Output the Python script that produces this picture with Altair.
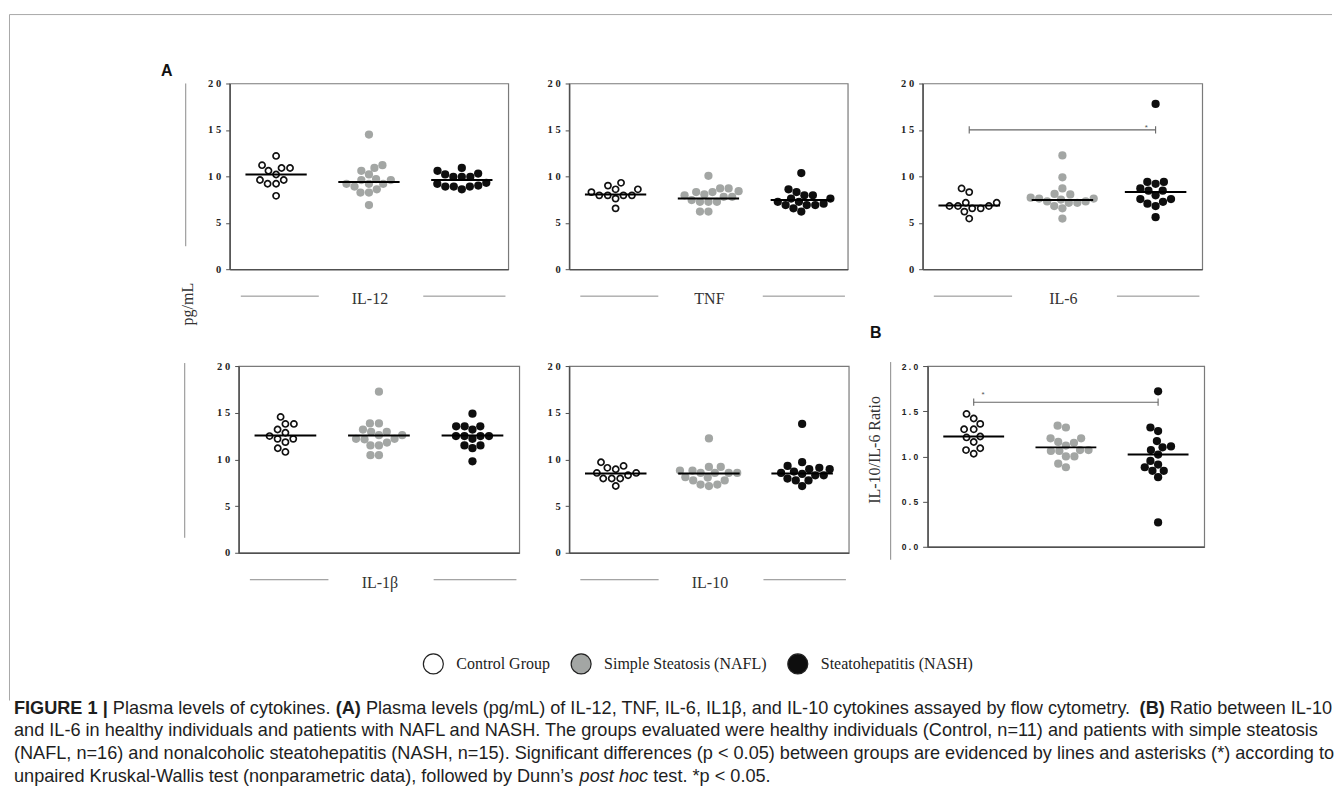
import math
import altair as alt
import pandas as pd

GROUPS = ["Control Group", "Simple Steatosis (NAFL)", "Steatohepatitis (NASH)"]
COLORS = ["#ffffff", "#a3a6a4", "#0e0e0e"]

# ---------------- data ----------------
il12_control = [12.2, 10.9, 10.6, 10.9, 11.2, 10.2, 9.6, 9.2, 9.2, 9.6, 7.9]
il12_nafl = [14.5, 10.6, 11.2, 10.9, 10.2, 9.2, 8.9, 9.6, 9.7, 9.6, 9.2, 9.2, 8.25, 8.25, 8.6, 6.9]
il12_nash = [10.6, 10.3, 9.95, 9.95, 9.95, 10.2, 10.9, 9.3, 9.0, 8.9, 8.6, 8.9, 8.9, 9.2]
il12_median = [10.2, 9.4, 9.6]

tnf_control = [9.0, 8.6, 7.95, 7.95, 9.3, 7.95, 7.6, 7.95, 8.3, 8.6, 6.55]
tnf_nafl = [10.05, 8.7, 8.3, 8.05, 7.8, 7.8, 7.95, 8.3, 8.4, 8.7, 7.25, 7.25, 7.45, 7.25, 6.2, 6.2]
tnf_nash = [10.35, 8.6, 7.95, 7.6, 7.6, 7.95, 8.3, 7.25, 6.9, 6.9, 7.05, 6.9, 7.25, 6.2, 6.55]
tnf_median = [8.05, 7.6, 7.45]

il6_control = [5.45, 8.3, 8.7, 7.15, 6.55, 6.8, 6.8, 6.8, 6.2, 6.55, 7.15]
il6_nafl = [12.25, 9.9, 8.7, 5.45, 8.1, 7.6, 7.3, 7.15, 7.15, 6.55, 7.3, 7.5, 8.05, 7.6, 7.7, 6.8]
il6_nash = [17.8, 5.6, 9.4, 8.7, 8.45, 8.45, 9.2, 9.4, 7.55, 7.25, 7.05, 6.8, 7.55, 7.95]
il6_median = [6.85, 7.45, 8.3]

il1b_control = [14.55, 13.8, 13.8, 13.2, 12.85, 12.5, 12.2, 11.85, 12.2, 11.2, 10.8]
il1b_nafl = [17.25, 13.85, 13.85, 13.2, 12.95, 12.6, 12.2, 12.15, 12.2, 12.6, 12.95, 11.5, 11.8, 11.5, 10.45, 10.45]
il1b_nash = [14.9, 13.55, 13.2, 13.55, 13.55, 12.2, 12.5, 12.5, 12.5, 12.5, 11.5, 11.2, 11.5, 9.8]
il1b_median = [12.55, 12.55, 12.55]

il10_control = [9.7, 9.1, 8.3, 7.95, 8.55, 7.15, 8.55, 7.95, 8.95, 7.95, 9.3]
il10_nafl = [12.25, 9.2, 8.1, 8.8, 7.75, 8.55, 7.3, 8.55, 7.15, 8.55, 7.3, 8.55, 7.75, 8.8, 8.05, 9.2]
il10_nash = [13.8, 9.7, 9.1, 8.95, 8.3, 7.75, 7.15, 8.55, 8.45, 7.75, 8.7, 7.95, 8.95, 8.3, 9.3]
il10_median = [8.5, 8.5, 8.5]

ratio_control = [1.47, 1.42, 1.36, 1.30, 1.30, 1.21, 1.22, 1.16, 1.09, 1.07, 1.03]
ratio_nafl = [1.34, 1.32, 1.15, 1.20, 1.20, 1.16, 1.07, 1.06, 1.12, 1.06, 1.07, 1.00, 1.00, 0.88, 0.92]
ratio_nash = [1.72, 1.17, 1.28, 1.32, 1.02, 1.10, 1.07, 1.11, 0.88, 0.84, 0.91, 0.95, 0.77, 0.84, 0.27]
ratio_median = [1.22, 1.10, 1.02]

a_ticks = [0, 5, 10, 15, 20]
b_ticks = [0.0, 0.5, 1.0, 1.5, 2.0]

# significance brackets: (from group, to group, level)
il6_sig = (0, 2, 15.0)
ratio_sig = (0, 2, 1.60)

caption_lines = [
    [("FIGURE 1", "b"), (" | ", "b"), ("Plasma levels of cytokines. ", "n"), ("(A)", "b"),
     (" Plasma levels (pg/mL) of IL-12, TNF, IL-6, IL1β, and IL-10 cytokines assayed by flow cytometry. ", "n"),
     ("(B)", "b"), (" Ratio between IL-10", "n")],
    [("and IL-6 in healthy individuals and patients with NAFL and NASH. The groups evaluated were healthy individuals (Control, n=11) and patients with simple steatosis", "n")],
    [("(NAFL, n=16) and nonalcoholic steatohepatitis (NASH, n=15). Significant differences (p < 0.05) between groups are evidenced by lines and asterisks (*) according to", "n")],
    [("unpaired Kruskal-Wallis test (nonparametric data), followed by Dunn\u2019s ", "n"), ("post hoc", "i"),
     (" test. *p < 0.05.", "n")],
]


# ---------------- helpers ----------------
def swarm(values, px_y, gap):
    """simple beeswarm: offsets in px so that dots do not overlap"""
    order = sorted(range(len(values)), key=lambda i: values[i])
    placed = []
    offs = [0.0] * len(values)
    for i in order:
        y = values[i] * px_y
        cands = [0.0]
        for xj, yj in placed:
            dy = abs(y - yj)
            if dy < gap:
                dx = math.sqrt(gap * gap - dy * dy)
                cands.extend([xj - dx, xj + dx])
        cands.sort(key=lambda c: (abs(c), c))
        for c in cands:
            if all((c - xj) ** 2 + (y - yj) ** 2 >= gap * gap - 1e-6 for xj, yj in placed):
                offs[i] = c
                break
        placed.append((offs[i], y))
    return offs


def deco_text(s, x, y, size=16, font="Liberation Serif", weight="normal", angle=0, color="#333333"):
    return alt.Chart(pd.DataFrame({"t": [s]})).mark_text(
        font=font, fontSize=size, fontWeight=weight, angle=angle, color=color,
        align="center", baseline="middle").encode(
        text="t:N", x=alt.value(x), y=alt.value(y))


def deco_rule(x1, y1, x2, y2, color="#8a8a8a", width=1.0):
    return alt.Chart(pd.DataFrame({"k": [0]})).mark_rule(color=color, strokeWidth=width).encode(
        x=alt.value(x1), x2=alt.value(x2), y=alt.value(y1), y2=alt.value(y2))


def label_row(name, w, h):
    return [
        deco_rule(0.04 * w, h + 27, 0.32 * w, h + 27),
        deco_rule(0.695 * w, h + 27, 0.99 * w, h + 27),
        deco_text(name, w / 2 + 1, h + 30),
    ]


def spacer(w):
    return alt.Chart(pd.DataFrame({"k": [0]})).mark_point(opacity=0).encode(
        x=alt.value(0), y=alt.value(0)).properties(width=w, height=1)


def make_panel(vals3, medians, ymax, ticks, w, h, ratio=False, sig=None, star_dx=0.0, star_dy=0.0, extras=()):
    px_y = h / ymax
    px_x = w / 3.0
    rows = []
    for g, vals in enumerate(vals3):
        offs = swarm(vals, px_y, 8.5)
        for v, o in zip(vals, offs):
            rows.append({"g": g, "value": v, "x": g + 0.5 + o / px_x})
    pts = pd.DataFrame(rows)

    xs = alt.X("x:Q", scale=alt.Scale(domain=[0, 3], nice=False, zero=False),
               axis=alt.Axis(labels=False, ticks=False, title=None, grid=False,
                             domainColor="#505050", domainWidth=1.5))
    if ratio:
        yaxis = alt.Axis(values=ticks, format=".1f", title=None, grid=False,
                         tickSize=5, tickColor="#505050", tickWidth=1,
                         domainColor="#505050", domainWidth=1.5,
                         labelFont="Liberation Sans", labelFontSize=8.5, labelFontWeight="bold",
                         labelColor="#222222", labelPadding=5,
                         labelExpr="join(split(datum.label, ''), ' ')")
    else:
        yaxis = alt.Axis(values=ticks, title=None, grid=False,
                         tickSize=4, tickColor="#505050", tickWidth=1,
                         domainColor="#505050", domainWidth=1.5,
                         labelFont="Liberation Serif", labelFontSize=10.5, labelFontWeight="bold",
                         labelColor="#222222", labelPadding=5,
                         labelExpr="join(split(datum.label, ''), ' ')")
    ys = alt.Y("value:Q", scale=alt.Scale(domain=[0, ymax], nice=False, zero=True), axis=yaxis)

    base = alt.Chart(pts).encode(x=xs, y=ys)
    layers = [
        base.transform_filter("datum.g == 0").mark_point(
            shape="circle", filled=True, fill="white", stroke="#111111", strokeWidth=1.7, size=38, opacity=1),
        base.transform_filter("datum.g == 1").mark_circle(size=68, color=COLORS[1], opacity=1),
        base.transform_filter("datum.g == 2").mark_circle(size=68, color=COLORS[2], opacity=1),
    ]
    med = pd.DataFrame({"g": [0, 1, 2], "value": medians})
    med["x"] = med["g"] + 0.5 - 0.33
    med["x2"] = med["g"] + 0.5 + 0.33
    layers.append(alt.Chart(med).mark_rule(color="#000000", strokeWidth=2).encode(x=xs, x2="x2:Q", y=ys))

    if sig is not None:
        g1, g2, level = sig
        cap = ymax * 0.02
        br = pd.DataFrame({"x": [g1 + 0.5], "x2": [g2 + 0.5], "value": [level]})
        caps = pd.DataFrame({"x": [g1 + 0.5, g2 + 0.5], "value": [level - cap] * 2, "value2": [level + cap] * 2})
        st = pd.DataFrame({"x": [star_dx], "value": [level + star_dy], "t": ["*"]})
        layers += [
            alt.Chart(br).mark_rule(color="#666666", strokeWidth=1.1).encode(x=xs, x2="x2:Q", y=ys),
            alt.Chart(caps).mark_rule(color="#666666", strokeWidth=1.1).encode(x=xs, y=ys, y2="value2:Q"),
            alt.Chart(st).mark_text(fontSize=8, color="#555555", baseline="middle").encode(x=xs, y=ys, text="t:N"),
        ]
    layers += list(extras)
    return alt.layer(*layers).properties(
        width=w, height=h, view=alt.ViewBackground(stroke="#7a7a7a", strokeWidth=1.2))


# ---------------- panels ----------------
W1, H1 = 279, 186
p1 = make_panel([il12_control, il12_nafl, il12_nash], il12_median, 20, a_ticks, W1, H1,
                extras=label_row("IL-12", W1, H1) + [
                    deco_text("A", -63, -12, size=16, font="Liberation Sans", weight="bold", color="#111111"),
                    deco_rule(-44, 0, -44, 163),
                    deco_text("pg/mL", -42, 221, size=16, angle=270),
                    # figure frame
                    deco_rule(-220.5, -69, 1104, -69, color="#a8a8a8", width=1),
                    deco_rule(-220.5, -69, -220.5, 618, color="#a8a8a8", width=1),
                ])
p2 = make_panel([tnf_control, tnf_nafl, tnf_nash], tnf_median, 20, a_ticks, W1, H1,
                extras=label_row("TNF", W1, H1))
p3 = make_panel([il6_control, il6_nafl, il6_nash], il6_median, 20, a_ticks, 280, H1,
                sig=il6_sig, star_dx=2.40, star_dy=0.25,
                extras=label_row("IL-6", 280, H1))

H2 = 187
p4 = make_panel([il1b_control, il1b_nafl, il1b_nash], il1b_median, 20, a_ticks, 281, H2,
                extras=label_row("IL-1β", 281, H2) + [deco_rule(-54, -3, -54, 172)])
p5 = make_panel([il10_control, il10_nafl, il10_nash], il10_median, 20, a_ticks, 280, H2,
                extras=label_row("IL-10", 280, H2))
p6 = make_panel([ratio_control, ratio_nafl, ratio_nash], ratio_median, 2.0, b_ticks, 277, 181,
                ratio=True, sig=ratio_sig, star_dx=0.60, star_dy=0.08,
                extras=[
                    deco_text("B", -52, -33, size=16, font="Liberation Sans", weight="bold", color="#111111"),
                    deco_rule(-37, -4, -37, 194),
                    deco_text("IL-10/IL-6 Ratio", -53, 84, size=16, angle=270),
                ])

# ---------------- legend + caption ----------------
AW = {' ': 278, '!': 278, '(': 333, ')': 333, '*': 389, ',': 278, '-': 333, '.': 278, '/': 278,
      ':': 278, ';': 278, '<': 584, '=': 584, '>': 584, '|': 260, "'": 191, '\u2019': 222, '\u03b2': 575}
for d in "0123456789":
    AW[d] = 556
AW.update(dict(A=667, B=667, C=722, D=722, E=667, F=611, G=778, H=722, I=278, J=500, K=667, L=556, M=833,
               N=722, O=778, P=667, Q=778, R=722, S=667, T=611, U=722, V=667, W=944, X=667, Y=667, Z=611))
AW.update(dict(a=556, b=556, c=500, d=556, e=556, f=278, g=556, h=556, i=222, j=222, k=500, l=222, m=833,
               n=556, o=556, p=556, q=556, r=333, s=500, t=278, u=556, v=500, w=722, x=500, y=500, z=500))
BW = dict(AW)
BW.update({'A': 722, 'B': 722, '|': 280})


def units(s, style):
    tab = BW if style == "b" else AW
    return sum(tab.get(ch, 556) for ch in s)


line1_units = sum(units(t, s) for t, s in caption_lines[0])
CAP_FS = round(1320 * 1000.0 / line1_units, 2)
CAP_X = -216
CAP_Y0 = 108
CAP_DY = 23

cap_rows = []
for li, segs in enumerate(caption_lines):
    cx = 0.0
    for text, style in segs:
        lead = len(text) - len(text.lstrip(" "))
        xs0 = cx + units(" " * lead, style) * CAP_FS / 1000.0
        cap_rows.append({"x": CAP_X + xs0, "y": CAP_Y0 + li * CAP_DY, "t": text.strip(" "), "s": style})
        cx += units(text, style) * CAP_FS / 1000.0
cap_df = pd.DataFrame(cap_rows)

cap_layers = []
for style in ["n", "b", "i"]:
    sub = cap_df[cap_df["s"] == style]
    cap_layers.append(
        alt.Chart(sub).mark_text(
            align="left", baseline="middle", font="Liberation Sans", fontSize=CAP_FS,
            fontWeight="bold" if style == "b" else "normal",
            fontStyle="italic" if style == "i" else "normal", color="#1e1e1e").encode(
            x=alt.X("x:Q", scale=None, axis=None), y=alt.Y("y:Q", scale=None, axis=None), text="t:N"))

legend_layer = alt.Chart(pd.DataFrame({"group": GROUPS})).mark_point(
    filled=True, shape="circle", size=400, opacity=0, stroke="#222222", strokeWidth=1.2).encode(
    fill=alt.Fill("group:N", scale=alt.Scale(domain=GROUPS, range=COLORS),
                  legend=alt.Legend(orient="none", legendX=193, legendY=52, direction="horizontal",
                                    columns=3, title=None, symbolType="circle", symbolSize=400,
                                    symbolOpacity=1, symbolStrokeWidth=1.2,
                                    labelFont="Liberation Serif", labelFontSize=16, labelColor="#222222",
                                    labelOffset=12, columnPadding=18, padding=0, labelLimit=400)))

bottom = alt.layer(legend_layer, *cap_layers).properties(width=1, height=1)

# Layout: with bounds="flush", a nested concat group counts as zero-sized, so the spacing
# that follows a nested group is the offset of the next view from the group's origin.
row1 = alt.hconcat(
    alt.hconcat(p1, p2, spacing=61, bounds="flush"),
    p3, spacing=694, bounds="flush")
row2 = alt.hconcat(
    alt.hconcat(alt.hconcat(spacer(1), p4, spacing=8, bounds="flush"), p5, spacing=340, bounds="flush"),
    p6, spacing=699, bounds="flush")
rows = alt.vconcat(row1, row2, spacing=283, bounds="flush")

chart = alt.vconcat(rows, bottom, spacing=518, bounds="flush").resolve_scale(
    fill="independent").resolve_legend(fill="independent").properties(
    padding={"left": 0, "top": 4, "right": 0, "bottom": 0},
    autosize=alt.AutoSizeParams(type="pad"),
).configure_view(strokeWidth=0)

chart.save("out.html", embed_options={"renderer": "svg", "actions": False})
